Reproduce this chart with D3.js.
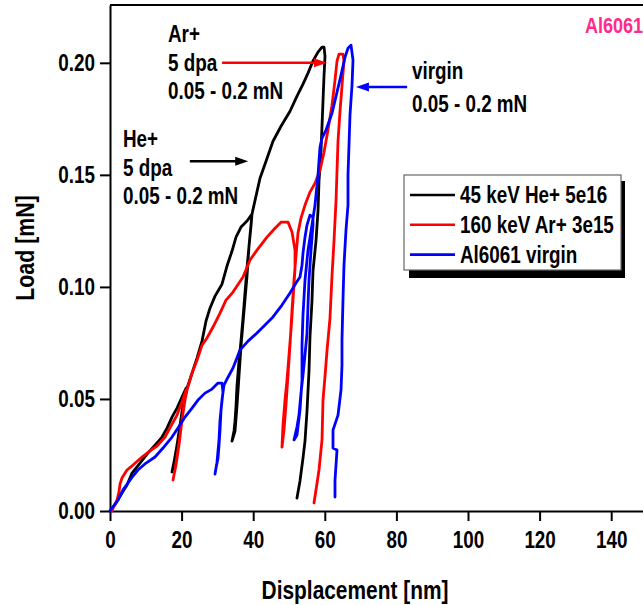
<!DOCTYPE html>
<html>
<head>
<meta charset="utf-8">
<script src="https://cdn.jsdelivr.net/npm/d3@7/dist/d3.min.js"></script>
<style>
  html, body { margin: 0; padding: 0; background: #fff; }
  svg { display: block; }
  text { font-family: "Liberation Sans", Arial, sans-serif; font-weight: bold; }
</style>
</head>
<body>
<svg id="chart" width="643" height="605"></svg>
<script>
// Nanoindentation load–displacement curves, Al6061, three partial load/unload cycles each
// Points are [displacement nm, load mN]
const heIrradiated = [
  [0,0],[0.56,0.0009],[1.68,0.0036],[3.35,0.008],[4.75,0.0116],[6.15,0.0169],[8.38,0.0214],[10.61,0.0259],
  [12.57,0.0294],[14.53,0.033],[15.92,0.037],[17.32,0.0419],[18.72,0.0459],[20.11,0.0508],[21.23,0.0548],
  [20.67,0.0495],[19.83,0.0406],[18.99,0.0317],[18.16,0.0236],[17.6,0.0192],[17.32,0.0174],
  [17.88,0.0218],[18.72,0.0294],[19.55,0.0383],[20.39,0.0473],[21.51,0.0548],
  [22.91,0.0615],[24.3,0.0682],[25.7,0.0758],[26.82,0.0848],[27.93,0.0905],[29.33,0.0959],[31.28,0.1012],
  [32.68,0.1093],[34.08,0.116],[35.2,0.1222],[36.59,0.1267],[38.27,0.1294],[39.66,0.1325],
  [39.39,0.1272],[38.83,0.1182],[38.27,0.1084],[37.71,0.0973],[37.15,0.0861],[36.59,0.0758],[36.03,0.0669],
  [35.47,0.0557],[35.2,0.0468],[34.92,0.0401],[34.64,0.0357],[34.08,0.0312],
  [34.92,0.0357],[35.47,0.0468],[36.03,0.0602],[36.59,0.0736],[37.43,0.0892],[38.27,0.1048],[38.83,0.1182],[39.66,0.1325],
  [40.78,0.1405],[41.9,0.1485],[43.58,0.1561],[45.53,0.165],[47.77,0.1717],[50.28,0.1784],[52.23,0.1851],
  [53.91,0.1905],[55.31,0.1954],[56.7,0.2008],[58.1,0.2048],[59.22,0.207],[59.78,0.207],
  [60.06,0.203],[59.78,0.1941],[59.5,0.1829],[59.22,0.1717],[58.94,0.1606],[58.38,0.1472],[58.1,0.1338],
  [57.54,0.1205],[56.7,0.1071],[56.42,0.0937],[55.87,0.0781],[55.59,0.0625],[55.03,0.0446],[54.47,0.0312],
  [53.91,0.0236],[53.07,0.0134],[52.23,0.0058]
];

const arIrradiated = [
  [0.56,0],[0.84,0.0013],[1.96,0.0049],[2.51,0.0085],[2.79,0.012],[3.35,0.0147],[4.75,0.0183],[6.42,0.0205],
  [8.94,0.0241],[11.17,0.0268],[13.13,0.029],[15.36,0.033],[17.32,0.0388],[18.72,0.0428],[20.11,0.0486],[21.23,0.0539],
  [20.95,0.0495],[20.11,0.0406],[19.27,0.0294],[18.44,0.0205],[17.6,0.0138],
  [18.16,0.0183],[18.99,0.0272],[19.83,0.037],[20.67,0.0473],[21.51,0.0539],
  [22.91,0.0615],[24.3,0.0673],[25.7,0.074],[27.09,0.0772],[28.77,0.0821],[30.73,0.0883],[32.4,0.0941],
  [34.36,0.0977],[37.15,0.1044],[39.11,0.112],[41.06,0.1164],[43.85,0.1222],[46.09,0.1262],[47.77,0.1289],[49.72,0.1289],
  [50.84,0.1245],[51.68,0.1164],[51.68,0.1084],[51.12,0.0941],[50.56,0.0808],[50.0,0.0696],[49.44,0.0584],
  [48.88,0.0495],[48.32,0.0383],[48.04,0.0285],
  [48.6,0.0361],[49.16,0.0473],[49.72,0.0606],[50.28,0.074],[50.84,0.0897],[51.4,0.103],[51.96,0.1142],
  [52.51,0.124],[53.35,0.1307],[54.47,0.1365],[55.87,0.1423],[57.26,0.1463],[58.66,0.1521],[59.78,0.1601],
  [60.89,0.17],[62.01,0.1811],[62.85,0.1923],[63.41,0.2008],[63.97,0.2039],[65.08,0.2039],
  [65.36,0.2008],[64.8,0.1896],[64.25,0.1784],[63.69,0.165],[63.41,0.1517],[63.13,0.1383],[62.57,0.1205],
  [62.01,0.1048],[61.45,0.0861],[60.61,0.0714],[60.06,0.0602],[59.5,0.0495],[59.22,0.0317],[58.38,0.0183],
  [57.54,0.0094],[56.98,0.0036]
];

const virgin = [
  [0,0],[0.56,0.0013],[2.23,0.0049],[3.63,0.0094],[5.03,0.0125],[6.42,0.0156],[7.82,0.0183],[10.06,0.0214],
  [12.57,0.0241],[14.8,0.0281],[17.32,0.033],[18.99,0.037],[20.95,0.0419],[22.91,0.0459],[24.58,0.0495],
  [26.54,0.0526],[28.49,0.0544],[30.17,0.0571],[31.28,0.0571],
  [31.56,0.0531],[31.01,0.045],[30.73,0.0361],[30.45,0.0294],[30.17,0.0236],[29.61,0.0192],[29.33,0.0165],
  [29.89,0.0218],[30.45,0.0317],[30.73,0.0406],[31.28,0.0495],[31.84,0.0562],
  [32.96,0.0597],[34.36,0.0638],[36.31,0.0718],[38.55,0.0758],[41.06,0.0794],[43.3,0.083],[45.53,0.0866],
  [48.04,0.0919],[50.28,0.0973],[51.96,0.1017],[53.07,0.1044],[53.63,0.1097],[53.91,0.1151],[54.47,0.1222],
  [55.03,0.1276],[55.87,0.132],[56.7,0.1311],
  [56.7,0.1276],[56.15,0.1164],[55.59,0.103],[55.31,0.0919],[55.03,0.0794],[54.47,0.0696],[53.91,0.0606],
  [53.35,0.0526],[52.79,0.0428],[52.23,0.0375],[51.4,0.0317],
  [52.23,0.0339],[53.07,0.045],[53.63,0.0584],[53.63,0.074],[53.91,0.0874],[54.47,0.103],[55.31,0.1164],
  [56.42,0.1276],[57.26,0.1365],
  [58.1,0.1499],[58.66,0.1624],[59.22,0.1664],[60.34,0.17],[62.01,0.1775],[63.41,0.1869],[64.53,0.1945],
  [65.64,0.2025],[66.48,0.2065],[67.32,0.2079],
  [67.88,0.2012],[67.6,0.19],[67.04,0.1767],[66.76,0.1633],[66.48,0.1499],[66.48,0.1365],[65.92,0.1254],
  [65.36,0.1097],[65.08,0.0941],[64.8,0.0763],[64.8,0.0651],[64.53,0.054],[63.69,0.0428],[62.29,0.0361],
  [62.29,0.0281],[63.41,0.0272],[63.13,0.0205],[62.85,0.0138],[62.85,0.0062]
];

const seriesNames = ["45 keV He+ 5e16", "160 keV Ar+ 3e15", "Al6061 virgin"];
const seriesColors = ["#000000", "#ff0000", "#0000ff"];
const xTicks = [0, 20, 40, 60, 80, 100, 120, 140];
const xMinorTicks = [10, 30, 50, 70, 90, 110, 130, 150];
const yTicks = [0, 0.05, 0.10, 0.15, 0.20];
const yMinorTicks = [0.025, 0.075, 0.125, 0.175, 0.225];

const svg = d3.select("#chart");
const x = d3.scaleLinear().domain([0, 150]).range([110, 647]);
const y = d3.scaleLinear().domain([0, 0.2258]).range([511, 5]);

// axes
const gx = svg.append("g").attr("transform", `translate(0,${y(0)})`);
gx.call(d3.axisBottom(x).tickValues(xMinorTicks).tickSize(6).tickSizeOuter(0).tickFormat(""));
gx.call(d3.axisBottom(x).tickValues(xTicks).tickSize(10).tickSizeOuter(0).tickPadding(11).tickFormat(d3.format("d")));

const gy = svg.append("g").attr("transform", `translate(${x(0)},0)`);
gy.call(d3.axisLeft(y).tickValues(yMinorTicks).tickSize(10).tickSizeOuter(0).tickFormat(""));
gy.call(d3.axisLeft(y).tickValues(yTicks).tickSize(10).tickSizeOuter(0).tickPadding(5).tickFormat(d3.format(".2f")));

svg.selectAll(".domain").attr("stroke", "#000").attr("stroke-width", 2);
svg.selectAll(".tick line").attr("stroke", "#000").attr("stroke-width", 2);
svg.selectAll(".tick text").attr("fill", "#000").style("font-size", "23px")
  .style("font-family", '"Liberation Sans", Arial, sans-serif').style("font-weight", "bold");

// top frame line
svg.append("line")
  .attr("x1", x(0)).attr("x2", x(150)).attr("y1", y(0.2258)).attr("y2", y(0.2258))
  .attr("stroke", "#000").attr("stroke-width", 2);

// axis titles
svg.append("text").attr("x", 355).attr("y", 599).attr("text-anchor", "middle")
  .style("font-size", "25.5px").text("Displacement [nm]");
svg.append("text").attr("transform", "translate(34,248) rotate(-90)").attr("text-anchor", "middle")
  .style("font-size", "26px").text("Load [mN]");

// curves
const line = d3.line().x(d => x(d[0])).y(d => y(d[1]));
[heIrradiated, arIrradiated, virgin].forEach((s, i) => {
  svg.append("path").datum(s).attr("d", line)
    .attr("fill", "none").attr("stroke", seriesColors[i]).attr("stroke-width", 2.8)
    .attr("stroke-linejoin", "round").attr("stroke-linecap", "round");
});

// annotations
function arrow(x1, x2, yv, color) {
  const px1 = x(x1), px2 = x(x2), py = y(yv);
  const dir = Math.sign(px2 - px1);
  svg.append("line").attr("x1", px1).attr("x2", px2 - dir * 10).attr("y1", py).attr("y2", py)
    .attr("stroke", color).attr("stroke-width", 2.4);
  svg.append("path")
    .attr("d", `M${px2},${py} L${px2 - dir * 13},${py - 4.5} L${px2 - dir * 13},${py + 4.5} Z`)
    .attr("fill", color);
}
function label(lines, x0, yFirst, step) {
  lines.forEach((t, i) => {
    svg.append("text").attr("x", x0).attr("y", yFirst + i * step).style("font-size", "23px").text(t);
  });
}
label(["Ar+", "5 dpa", "0.05 - 0.2 mN"], 168, 42, 28.7);
label(["He+", "5 dpa", "0.05 - 0.2 mN"], 123, 147, 28.7);
label(["virgin", "0.05 - 0.2 mN"], 412, 79, 32.5);
arrow(31.3, 60.6, 0.2, "#ff0000");
arrow(22.3, 38.6, 0.1561, "#000000");
arrow(83.0, 68.7, 0.1892, "#0000ff");

svg.append("text").attr("x", 585).attr("y", 33).attr("fill", "#ff2a8d")
  .style("font-size", "22px").text("Al6061");

// legend
const lg = svg.append("g").attr("transform", "translate(404,175)");
lg.append("rect").attr("x", 5).attr("y", 6).attr("width", 216).attr("height", 97).attr("fill", "#000");
lg.append("rect").attr("x", 0).attr("y", 0).attr("width", 217).attr("height", 95)
  .attr("fill", "#fff").attr("stroke", "#666").attr("stroke-width", 1.2);
seriesNames.forEach((n, i) => {
  const ry = 20 + i * 29.8;
  lg.append("line").attr("x1", 6).attr("x2", 51).attr("y1", ry).attr("y2", ry)
    .attr("stroke", seriesColors[i]).attr("stroke-width", 2.6);
  lg.append("text").attr("x", 56).attr("y", ry + 8).style("font-size", "23px").text(n);
});

// condensed bold lettering: narrow each label around its own anchor point
svg.selectAll("text").each(function () {
  const s = d3.select(this);
  const tx = +s.attr("x") || 0, ty = +s.attr("y") || 0;
  const tr = s.attr("transform") || "";
  s.attr("x", 0).attr("y", 0).attr("transform", `${tr} translate(${tx},${ty}) scale(0.82,1)`);
});
</script>
</body>
</html>
